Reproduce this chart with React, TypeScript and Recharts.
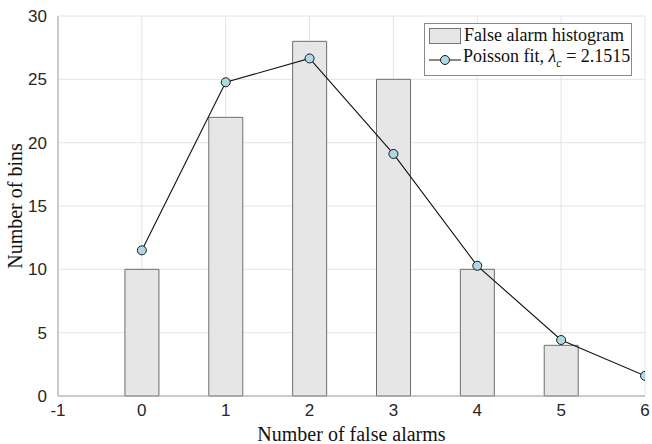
import {
  ComposedChart,
  Bar,
  Line,
  XAxis,
  YAxis,
  CartesianGrid,
} from "recharts";

const alarmCounts = [0, 1, 2, 3, 4, 5, 6];
const histogramBins = [10, 22, 28, 25, 10, 4];
const poissonFit = [11.5, 24.77, 26.65, 19.11, 10.28, 4.42, 1.59];
const xTicks = [-1, 0, 1, 2, 3, 4, 5, 6];
const yTicks = [0, 5, 10, 15, 20, 25, 30];

const data = alarmCounts.map((k, i) => ({
  k,
  hist: histogramBins[i],
  fit: poissonFit[i],
}));

const serif = "'Liberation Serif', 'DejaVu Serif', serif";
const sans = "'Liberation Sans', Arial, Helvetica, sans-serif";

// legend drawn as an overlay so it doesn't push the plot area down
function FitLegend() {
  return (
    <div
      style={{
        position: "absolute",
        left: 424,
        top: 23,
        width: 202,
        background: "#fff",
        border: "1px solid #8a8a8a",
        padding: "1px 0 1px 4px",
        fontFamily: serif,
        fontSize: 18,
        color: "#111",
        lineHeight: "21px",
        whiteSpace: "nowrap",
      }}
    >
      <div style={{ display: "flex", alignItems: "center" }}>
        <span
          style={{
            display: "inline-block",
            flexShrink: 0,
            width: 30,
            height: 14,
            background: "#e6e6e6",
            border: "1px solid #777",
            marginRight: 3,
          }}
        />
        <span>False alarm histogram</span>
      </div>
      <div style={{ display: "flex", alignItems: "center" }}>
        <svg width={32} height={12} style={{ marginRight: 2, flexShrink: 0 }}>
          <line x1={0} y1={6} x2={32} y2={6} stroke="#111" strokeWidth={1} />
          <circle cx={16} cy={6} r={4.5} fill="#add8e6" stroke="#1a1a1a" strokeWidth={1} />
        </svg>
        <span>
          Poisson fit, <i>λ</i>
          <sub style={{ fontSize: 12, fontStyle: "italic" }}>c</sub> = 2.1515
        </span>
      </div>
    </div>
  );
}

export default function App() {
  return (
    <div style={{ position: "absolute", left: 0, top: 0, width: 652, height: 444, background: "#fff" }}>
      <ComposedChart
        width={652}
        height={444}
        data={data}
        margin={{ top: 16, right: 7, left: 0, bottom: 0 }}
      >
        <CartesianGrid stroke="#e4e4e4" strokeWidth={1} />
        <XAxis
          dataKey="k"
          type="number"
          domain={[-1, 6]}
          ticks={xTicks}
          allowDataOverflow
          height={48}
          axisLine={{ stroke: "#a6a6a6" }}
          tickLine={false}
          tick={{ fill: "#262626", fontSize: 17, fontFamily: sans }}
          tickMargin={2}
          label={{
            value: "Number of false alarms",
            position: "insideBottom",
            offset: 3,
            style: { fill: "#111", fontSize: 20, fontFamily: serif },
          }}
        />
        <YAxis
          type="number"
          domain={[0, 30]}
          ticks={yTicks}
          width={58}
          axisLine={{ stroke: "#a6a6a6" }}
          tickLine={false}
          tick={{ fill: "#262626", fontSize: 17, fontFamily: sans }}
          tickMargin={5}
          label={{
            value: "Number of bins",
            angle: -90,
            position: "insideLeft",
            offset: 15,
            style: { fill: "#111", fontSize: 20, fontFamily: serif, textAnchor: "middle" },
          }}
        />
        <Bar
          dataKey="hist"
          barSize={34}
          fill="#e6e6e6"
          stroke="#6e6e6e"
          strokeWidth={1}
          isAnimationActive={false}
        />
        <Line
          dataKey="fit"
          type="linear"
          stroke="#111"
          strokeWidth={1.1}
          dot={{ r: 4.5, fill: "#add8e6", stroke: "#1a1a1a", strokeWidth: 1 }}
          activeDot={false}
          isAnimationActive={false}
        />
      </ComposedChart>
      <FitLegend />
    </div>
  );
}
